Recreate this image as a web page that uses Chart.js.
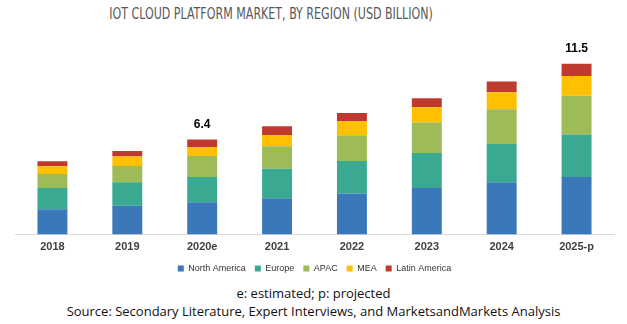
<!DOCTYPE html>
<html>
<head>
<meta charset="UTF-8" />
<title>IoT Cloud Platform Market</title>
<script src="https://cdn.jsdelivr.net/npm/chart.js"></script>
<style>
  body { margin: 0; background: #fff; }
  #wrap { position: relative; width: 627px; height: 324px; overflow: hidden; }
  #title { position: absolute; top: 4px; left: 271px; white-space: nowrap;
           transform: translateX(-50%) scaleX(0.77);
           font-family: "Liberation Sans Narrow", "DejaVu Sans Condensed", sans-serif;
           font-size: 16px; color: #595959; }
  #chartBox { position: absolute; top: 0; left: 0; width: 627px; height: 283px; }
  .note { position: absolute; left: 0; width: 627px; text-align: center;
          font-family: "Open Sans", sans-serif; font-size: 13px; color: #111; }
</style>
</head>
<body>
<div id="wrap">
  <div id="title">IOT CLOUD PLATFORM MARKET, BY REGION (USD BILLION)</div>
  <div id="chartBox"><canvas id="myChart"></canvas></div>
  <div class="note" style="top:284px">e: estimated; p: projected</div>
  <div class="note" style="top:302px">Source: Secondary Literature, Expert Interviews, and MarketsandMarkets Analysis</div>
</div>

<script>
  const years = ['2018', '2019', '2020e', '2021', '2022', '2023', '2024', '2025-p'];
  const northAmerica = [1.71, 1.94, 2.18, 2.45, 2.77, 3.13, 3.53, 3.88];
  const europe       = [1.42, 1.59, 1.69, 1.99, 2.18, 2.36, 2.57, 2.86];
  const apac         = [0.95, 1.08, 1.42, 1.51, 1.74, 2.05, 2.34, 2.60];
  const mea          = [0.52, 0.64, 0.61, 0.76, 0.95, 1.03, 1.15, 1.33];
  const latinAmerica = [0.34, 0.38, 0.50, 0.59, 0.54, 0.61, 0.72, 0.83];
  const totalLabels  = ['', '', '6.4', '', '', '', '', '11.5'];

  // total labels above selected bars
  const totalsPlugin = {
    id: 'totals',
    afterDatasetsDraw(chart) {
      const ctx = chart.ctx;
      const meta = chart.getDatasetMeta(chart.data.datasets.length - 1);
      ctx.save();
      ctx.font = 'bold 12px "Liberation Sans", Arial, sans-serif';
      ctx.fillStyle = '#000';
      ctx.textAlign = 'center';
      ctx.textBaseline = 'middle';
      meta.data.forEach((bar, i) => {
        if (totalLabels[i]) ctx.fillText(totalLabels[i], bar.x, bar.y - 15);
      });
      ctx.restore();
    }
  };

  const ctx = document.getElementById('myChart').getContext('2d');
  new Chart(ctx, {
    type: 'bar',
    data: {
      labels: years,
      datasets: [
        { label: 'North America', data: northAmerica, backgroundColor: '#3a78b9' },
        { label: 'Europe', data: europe, backgroundColor: '#39aa91' },
        { label: 'APAC', data: apac, backgroundColor: '#9dbb56' },
        { label: 'MEA', data: mea, backgroundColor: '#ffc000' },
        { label: 'Latin America', data: latinAmerica, backgroundColor: '#c0392f' }
      ]
    },
    options: {
      responsive: true,
      maintainAspectRatio: false,
      animation: false,
      layout: { padding: { top: 40, left: 15, right: 13, bottom: 0 } },
      datasets: { bar: { categoryPercentage: 0.8, barPercentage: 0.5 } },
      scales: {
        x: {
          stacked: true,
          grid: { display: false, tickLength: 0 },
          border: { color: '#d9d9d9' },
          ticks: { color: '#404040', font: { family: '"Liberation Sans", Arial', size: 11, weight: 'bold', lineHeight: 0.8 }, padding: 8 },
          afterFit(scale) { scale.height = 20.4; }
        },
        y: {
          stacked: true,
          display: false,
          min: 0,
          max: 13.1
        }
      },
      plugins: {
        legend: {
          position: 'bottom',
          labels: {
            boxWidth: 6, boxHeight: 6, padding: 9,
            color: '#333',
            font: { family: '"Liberation Sans", Arial', size: 9 }
          }
        },
        tooltip: { enabled: false }
      }
    },
    plugins: [totalsPlugin]
  });
</script>
</body>
</html>
